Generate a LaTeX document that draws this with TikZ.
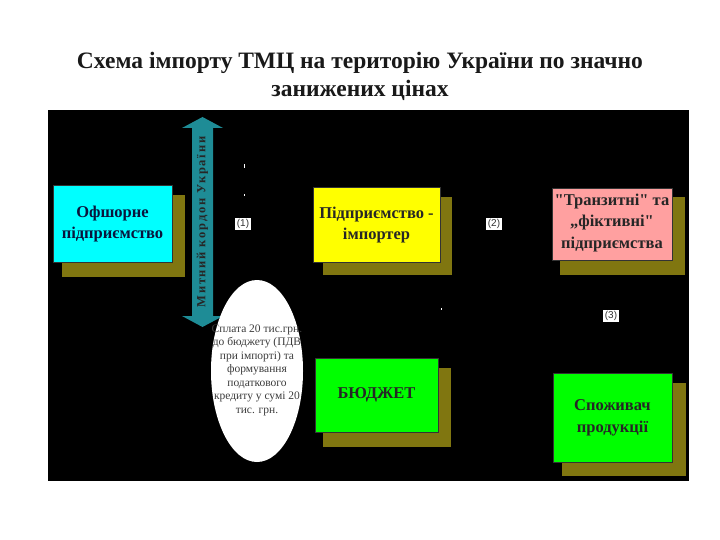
\documentclass[tikz,border=0pt]{standalone}
\usepackage{fontspec}
\setmainfont{Liberation Serif}
\setsansfont{Liberation Sans}
\newfontfamily\arrowfont[LetterSpace=14]{Liberation Serif}
\usetikzlibrary{shapes.geometric}
\definecolor{olivesh}{RGB}{128,118,16}
\definecolor{teal2}{RGB}{30,140,150}
\definecolor{pinkbox}{RGB}{255,160,160}
\definecolor{cyanbox}{RGB}{0,255,255}
\definecolor{greenbox}{RGB}{0,255,0}
\definecolor{yellowbox}{RGB}{255,255,0}
\definecolor{navytxt}{RGB}{10,20,60}
\definecolor{elltxt}{RGB}{60,60,60}
\tikzset{
  boxfill/.style={draw=black!80, line width=0.8pt},
  shadowbox/.style={fill=olivesh, draw=none},
  boxtext/.style={font=\bfseries\fontsize{16.5}{21.5}\selectfont, align=center, text=black!85},
  lbl/.style={fill=white, inner sep=1.5pt, font=\sffamily\fontsize{10}{11}\selectfont, text=black!80},
  dotmark/.style={fill=white, inner sep=0pt, minimum width=1pt, minimum height=4pt}
}
\begin{document}
\begin{tikzpicture}[x=1pt,y=-1pt]
\useasboundingbox (0,0) rectangle (720,540);
\fill[white] (0,0) rectangle (720,540);
% title
\node[font=\bfseries\fontsize{23.5}{28}\selectfont, align=center, text=black!90] (title) at (360,76)
  {Схема імпорту ТМЦ на територію України по значно\\занижених цінах};
% black panel
\fill[black] (48,110) rectangle (689,481);
% offshore
\fill[shadowbox] (62,195) rectangle (185,277);
\filldraw[boxfill, fill=cyanbox] (53,185) rectangle (172,262);
\node[boxtext, text=navytxt] (offshore) at (112.5,224) {Офшорне\\підприємство};
% importer
\fill[shadowbox] (323,197) rectangle (452,275);
\filldraw[boxfill, fill=yellowbox] (313,187) rectangle (440,262);
\node[boxtext] (importer) at (376.5,225) {Підприємство -\\імпортер};
% transit
\fill[shadowbox] (560,197) rectangle (685,275);
\filldraw[boxfill, fill=pinkbox] (552,188) rectangle (672,260);
\node[boxtext] (transit) at (612,223) {\textquotedbl Транзитні\textquotedbl{} та\\„фіктивні\textquotedbl\\підприємства};
% budget
\fill[shadowbox] (323,368) rectangle (451,447);
\filldraw[boxfill, fill=greenbox] (315,358) rectangle (438,432);
\node[boxtext] (budget) at (376.5,395) {БЮДЖЕТ};
% consumer
\fill[shadowbox] (562,383) rectangle (686,476);
\filldraw[boxfill, fill=greenbox] (553,373) rectangle (672,462);
\node[boxtext] (consumer) at (612.5,418) {Споживач\\продукції};
% double arrow (customs border)
\fill[teal2] (202.5,117) -- (223,128) -- (213,128) -- (213,316) -- (223,316) -- (202.5,327)
  -- (182,316) -- (192,316) -- (192,128) -- (182,128) -- cycle;
\node[rotate=90, font=\arrowfont\bfseries\fontsize{12.5}{13}\selectfont, text=black!85] (border) at (202.5,222) {Митний кордон України};
% ellipse
\node[ellipse, fill=white, minimum width=92pt, minimum height=182pt, inner sep=0pt] (ell) at (257,371) {};
\node[align=center, font=\fontsize{11.5}{13.5}\selectfont, text=elltxt] (elltext) at (257,370)
  {Сплата 20 тис.грн.\\до бюджету (ПДВ\\при імпорті) та\\формування\\податкового\\кредиту у сумі 20\\тис. грн.};
% labels
\node[lbl] (l1) at (243,224) {(1)};
\node[lbl] (l2) at (494,224) {(2)};
\node[lbl] (l3) at (611,316) {(3)};
% small marks
\node[dotmark] (d1) at (244,166) {};
\node[dotmark, minimum height=2pt] (d2) at (244,195) {};
\node[dotmark, minimum height=2pt] (d3) at (441,309) {};
\end{tikzpicture}
\end{document}
